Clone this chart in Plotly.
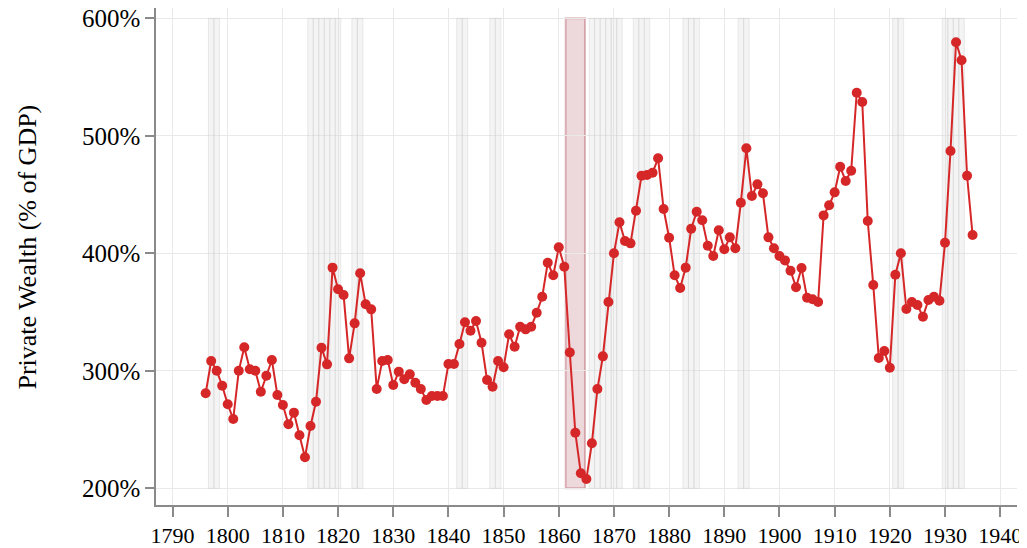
import plotly.graph_objects as go

years = list(range(1796, 1936))
wealth = [
    280.9, 308.3, 300.1, 287.3, 271.5, 259.0, 300.0, 320.0, 301.3, 300.0,   # 1796-1805
    282.2, 295.8, 309.2, 279.4, 270.9, 254.5, 264.4, 245.1, 226.4, 253.0,   # 1806-1815
    273.7, 319.7, 305.5, 387.8, 369.4, 364.5, 310.6, 340.4, 383.0, 356.6,   # 1816-1825
    352.3, 284.6, 308.3, 309.2, 287.9, 299.3, 292.8, 297.0, 289.9, 284.5,   # 1826-1835
    275.1, 278.6, 278.6, 278.6, 305.8, 305.8, 322.8, 341.3, 334.1, 342.4,   # 1836-1845
    323.9, 292.2, 286.5, 308.3, 303.0, 331.1, 320.5, 337.5, 335.3, 337.5,   # 1846-1855
    349.4, 363.0, 392.0, 381.3, 405.1, 388.6, 315.7, 247.3, 212.8, 207.9,   # 1856-1865
    238.3, 284.5, 312.3, 358.6, 400.0, 426.4, 410.5, 408.5, 436.3, 466.0,   # 1866-1875
    466.6, 468.6, 480.9, 437.7, 413.3, 381.3, 370.5, 387.8, 420.9, 435.4,   # 1876-1885
    428.1, 406.5, 397.7, 419.6, 403.4, 413.6, 404.3, 443.1, 489.4, 448.8,   # 1886-1895
    458.7, 451.1, 413.6, 404.3, 397.7, 394.0, 385.2, 371.1, 387.5, 362.2,   # 1896-1905
    360.9, 358.6, 432.3, 440.9, 451.9, 473.7, 461.5, 470.3, 536.7, 528.8,   # 1906-1915
    427.5, 373.0, 310.9, 316.8, 302.6, 381.8, 400.0, 352.6, 358.6, 356.0,   # 1916-1925
    346.0, 360.3, 363.0, 359.7, 409.0, 487.1, 579.6, 564.3, 466.0, 415.6,   # 1926-1935
]

# Shaded (gray) years
shaded_years = [1797, 1798, 1815, 1816, 1817, 1818, 1819, 1820, 1823, 1824,
                1842, 1843, 1848, 1849, 1866, 1867, 1868, 1869, 1870, 1871,
                1874, 1875, 1876, 1883, 1884, 1885, 1893, 1894, 1921, 1922,
                1930, 1931, 1932, 1933]
shade_bottom = 200
shade_top = 600

# Civil War highlight
war_start = 1861.25
war_end = 1864.75

x_ticks = list(range(1790, 1950, 10))
y_ticks = [200, 300, 400, 500, 600]
y_tick_labels = [f"{v}%" for v in y_ticks]
y_title = "Private Wealth (% of GDP)"

RED = "#d62728"

fig = go.Figure()

fig.add_trace(go.Bar(
    x=shaded_years,
    y=[shade_top - shade_bottom] * len(shaded_years),
    base=[shade_bottom] * len(shaded_years),
    width=1,
    marker=dict(color="rgba(215,215,215,0.28)",
                line=dict(color="rgba(200,200,200,0.35)", width=1)),
    hoverinfo="skip",
    showlegend=False,
))

fig.add_trace(go.Scatter(
    x=years, y=wealth, mode="lines+markers",
    line=dict(color=RED, width=2),
    marker=dict(color=RED, size=10),
    showlegend=False,
))

fig.add_shape(type="rect", xref="x", yref="y",
              x0=war_start, x1=war_end, y0=shade_bottom, y1=shade_top,
              fillcolor="rgba(165,60,75,0.20)",
              line=dict(color="rgba(165,60,75,0.35)", width=2),
              layer="below")

serif = "Liberation Serif, Times New Roman, serif"

fig.add_annotation(
    text=y_title, xref="paper", yref="paper",
    x=-0.1487, y=0.52, xanchor="center", yanchor="middle",
    textangle=-90, showarrow=False,
    font=dict(family=serif, size=26, color="black"),
)

fig.update_layout(
    width=1019, height=540,
    margin=dict(l=148, r=10, t=0, b=43),
    paper_bgcolor="white", plot_bgcolor="white",
    barmode="overlay",
    font=dict(family=serif, color="black"),
    xaxis=dict(
        range=[1787.0, 1943.05],
        tickmode="array", tickvals=x_ticks,
        ticks="outside", ticklen=10, tickwidth=1.5, tickcolor="#8a8a8a",
        showline=True, linecolor="#8a8a8a", linewidth=1.5,
        showgrid=True, gridcolor="#e9e9e9", gridwidth=1,
        zeroline=False,
        tickfont=dict(family=serif, size=22, color="black"),
        ticklabeloverflow="allow",
        automargin=False,
    ),
    yaxis=dict(
        range=[185.8, 608.8],
        tickmode="array", tickvals=y_ticks, ticktext=y_tick_labels,
        ticks="outside", ticklen=9, tickwidth=1.5, tickcolor="#8a8a8a",
        showline=True, linecolor="#8a8a8a", linewidth=1.5,
        showgrid=True, gridcolor="#e9e9e9", gridwidth=1,
        zeroline=False,
        tickfont=dict(family=serif, size=25, color="black"),
        ticklabeloverflow="allow",
        automargin=False,
    ),
)

fig.write_html("out.html")
